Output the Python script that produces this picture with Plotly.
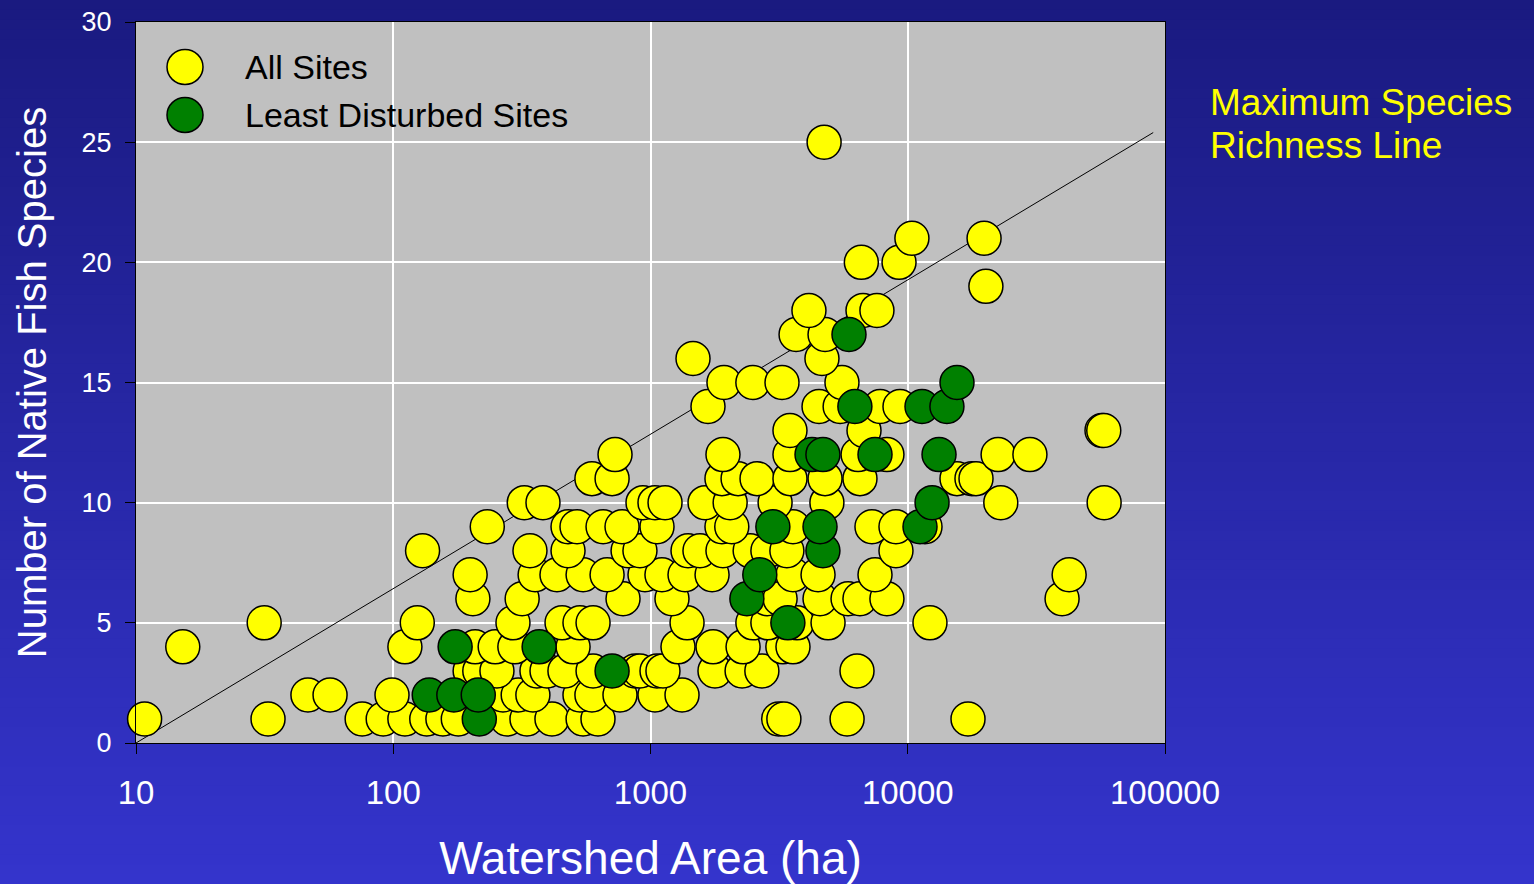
import plotly.graph_objects as go

# Watershed area (ha) and native fish species counts, all sampled sites
all_area = [
    10.8, 32.6, 75.7, 91.4, 111, 135, 156, 179, 277, 331, 414, 547, 625, 3150, 3300, 5810, 17150,
    46.6, 56.8, 98.9, 223, 267, 306, 349, 532, 592, 761, 1041, 1326,
    199, 217, 253, 362, 396, 465, 598, 871, 910, 1060, 1118, 1781, 2270, 2710, 6350,
    15.2, 111, 208, 249, 297, 500, 1279, 1750, 2290, 3270, 3580,
    31.5, 124, 292, 453, 532, 598, 1387, 2500, 2860, 3710, 4900, 12200,
    204, 317, 782, 1212, 2840, 3190, 4560, 5860, 6520, 8300, 39800,
    199, 356, 433, 547, 678, 952, 1108, 1362, 1735, 3580, 4480, 7460, 42400,
    130, 340, 478, 818, 910, 1399, 1557, 1913, 2440, 2860, 3390, 9000,
    232, 478, 518, 654, 775, 1060, 1896, 2070, 3580, 7260, 9000, 11670,
    323, 382, 935, 1041, 1139, 1629, 2040, 3050, 4850, 23000, 58000,
    592, 709, 1896, 2190, 2595, 3485, 4770, 6520, 15540, 17770, 18420,
    728, 1913, 3485, 6410, 8300, 22450, 29850,
    3485, 6760, 56900, 57800,
    1673, 4520, 5460, 7810, 9330,
    1930, 2500, 3245, 5550,
    1463, 4640,
    3680, 4770,
    4130, 6700, 7590,
    20130,
    6600, 9250,
    10380, 19800,
    4730,
]
all_species = [
    1, 1, 1, 1, 1, 1, 1, 1, 1, 1, 1, 1, 1, 1, 1, 1, 1,
    2, 2, 2, 2, 2, 2, 2, 2, 2, 2, 2, 2,
    3, 3, 3, 3, 3, 3, 3, 3, 3, 3, 3, 3, 3, 3, 3,
    4, 4, 4, 4, 4, 4, 4, 4, 4, 4, 4,
    5, 5, 5, 5, 5, 5, 5, 5, 5, 5, 5, 5,
    6, 6, 6, 6, 6, 6, 6, 6, 6, 6, 6,
    7, 7, 7, 7, 7, 7, 7, 7, 7, 7, 7, 7, 7,
    8, 8, 8, 8, 8, 8, 8, 8, 8, 8, 8, 8,
    9, 9, 9, 9, 9, 9, 9, 9, 9, 9, 9, 9,
    10, 10, 10, 10, 10, 10, 10, 10, 10, 10, 10,
    11, 11, 11, 11, 11, 11, 11, 11, 11, 11, 11,
    12, 12, 12, 12, 12, 12, 12,
    13, 13, 13, 13,
    14, 14, 14, 14, 14,
    15, 15, 15, 15,
    16, 16,
    17, 17,
    18, 18, 18,
    19,
    20, 20,
    21, 21,
    25,
]

# Least disturbed (reference) sites
ld_area = [
    216,
    138, 172, 214,
    709,
    174, 369,
    3420,
    2370,
    2660,
    4680,
    2990, 4560, 11160,
    12430,
    4245, 4680, 7460, 13230,
    6230, 11360, 14200,
    15540,
    5910,
]
ld_species = [
    1,
    2, 2, 2,
    3,
    4, 4,
    5,
    6,
    7,
    8,
    9, 9, 9,
    10,
    12, 12, 12, 12,
    14, 14, 14,
    15,
    17,
]

# Maximum species richness line (end points)
line_area = [10, 90000]
line_species = [0, 25.4]

x_tickvals = [10, 100, 1000, 10000, 100000]
x_ticktext = ["10", "100", "1000", "10000", "100000"]
y_tickvals = [0, 5, 10, 15, 20, 25, 30]

FONT = "Arial, Liberation Sans, sans-serif"
W, H = 1534, 884
L, R, T, B = 136, 369, 22, 141
PW, PH = W - L - R, H - T - B
YELLOW = "#FFFF00"
GREEN = "#008000"


def px_x(px):
    return (px - L) / PW


def px_y(py):
    return (H - B - py) / PH


fig = go.Figure()

fig.add_trace(go.Scatter(
    x=line_area, y=line_species, mode="lines",
    line=dict(color="black", width=1), showlegend=False, hoverinfo="skip",
))
fig.add_trace(go.Scatter(
    x=all_area, y=all_species, mode="markers", name="All Sites",
    marker=dict(size=34, color=YELLOW, line=dict(color="black", width=1.5)),
    cliponaxis=False, showlegend=False,
))
fig.add_trace(go.Scatter(
    x=ld_area, y=ld_species, mode="markers", name="Least Disturbed Sites",
    marker=dict(size=34, color=GREEN, line=dict(color="black", width=1.5)),
    cliponaxis=False, showlegend=False,
))

# Vertical blue gradient behind everything, then the grey plotting area
shapes = []
top = (26, 26, 128)
bottom = (52, 52, 204)
n = 90
for i in range(n):
    t = i / (n - 1)
    c = tuple(round(top[k] + (bottom[k] - top[k]) * t) for k in range(3))
    y0 = i * H / n
    y1 = (i + 1) * H / n + 1
    shapes.append(dict(
        type="rect", xref="paper", yref="paper", layer="below",
        x0=px_x(0), x1=px_x(W), y0=px_y(y1), y1=px_y(y0),
        fillcolor="rgb(%d,%d,%d)" % c, line=dict(width=0),
    ))
shapes.append(dict(
    type="rect", xref="paper", yref="paper", layer="below",
    x0=0, x1=1, y0=0, y1=1, fillcolor="#C0C0C0", line=dict(width=0),
))

# Legend symbols
for cy, col in [(67, YELLOW), (115, GREEN)]:
    shapes.append(dict(
        type="circle", xref="paper", yref="paper", layer="above",
        xsizemode="pixel", ysizemode="pixel",
        xanchor=px_x(185), yanchor=px_y(cy),
        x0=-18, x1=18, y0=-17.5, y1=17.5,
        fillcolor=col, line=dict(color="black", width=1.5),
    ))

annotations = [
    dict(text="All Sites", x=px_x(243), y=px_y(67), xref="paper", yref="paper",
         xanchor="left", yanchor="middle", showarrow=False,
         font=dict(family=FONT, size=34, color="black")),
    dict(text="Least Disturbed Sites", x=px_x(243), y=px_y(115), xref="paper", yref="paper",
         xanchor="left", yanchor="middle", showarrow=False,
         font=dict(family=FONT, size=34, color="black")),
    dict(text="Maximum Species", x=px_x(1208), y=px_y(103), xref="paper", yref="paper",
         xanchor="left", yanchor="middle", showarrow=False,
         font=dict(family=FONT, size=37, color=YELLOW)),
    dict(text="Richness Line", x=px_x(1208), y=px_y(145), xref="paper", yref="paper",
         xanchor="left", yanchor="middle", showarrow=False,
         font=dict(family=FONT, size=37, color=YELLOW)),
]

fig.update_layout(
    width=W, height=H,
    margin=dict(l=L, r=R, t=T, b=B, pad=0),
    paper_bgcolor="#1A1A80",
    plot_bgcolor="#C0C0C0",
    shapes=shapes,
    annotations=annotations,
    showlegend=False,
    font=dict(family=FONT, color="white"),
    xaxis=dict(
        type="log", range=[1, 5],
        tickvals=x_tickvals, ticktext=x_ticktext,
        tickfont=dict(size=33, color="white"),
        ticks="outside", ticklen=10, tickwidth=1, tickcolor="black",
        ticklabelstandoff=10,
        showline=True, linecolor="black", linewidth=1, mirror=True,
        showgrid=True, gridcolor="white", gridwidth=1.5,
        zeroline=False, automargin=False,
        title=dict(text="Watershed Area (ha)", font=dict(size=46, color="white"), standoff=37),
    ),
    yaxis=dict(
        range=[0, 30], tickvals=y_tickvals,
        tickfont=dict(size=27, color="white"),
        ticks="outside", ticklen=10, tickwidth=1, tickcolor="black",
        ticklabelstandoff=8,
        showline=True, linecolor="black", linewidth=1, mirror=True,
        showgrid=True, gridcolor="white", gridwidth=1.5,
        zeroline=False, automargin=False,
        title=dict(text="Number of Native Fish Species", font=dict(size=40, color="white"), standoff=22),
    ),
)

fig.write_html("out.html")
